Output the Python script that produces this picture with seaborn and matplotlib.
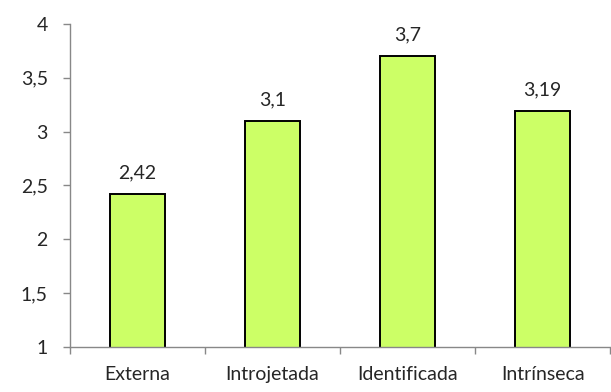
import seaborn as sns
import matplotlib.pyplot as plt
import pandas as pd

categorias = ['Externa', 'Introjetada', 'Identificada', 'Intrínseca']
medias = [2.42, 3.1, 3.7, 3.19]
rotulos = ['2,42', '3,1', '3,7', '3,19']
yticks = [1, 1.5, 2, 2.5, 3, 3.5, 4]
ytick_labels = ['1', '1,5', '2', '2,5', '3', '3,5', '4']

df = pd.DataFrame({'cat': categorias, 'val': medias})

sns.set_style('white')
plt.rcParams['font.family'] = ['Lato', 'DejaVu Sans']

fig = plt.figure(figsize=(6.11, 3.92), dpi=100)
ax = fig.add_axes([0.1146, 0.115, 0.884, 0.824])

sns.barplot(data=df, x='cat', y='val', color='#CCFF66', width=0.41,
            edgecolor='black', linewidth=1.4, saturation=1, ax=ax)

# rotulos de dados
for i, (v, r) in enumerate(zip(medias, rotulos)):
    ax.text(i, v + 0.12, r, ha='center', va='bottom', fontsize=14)

ax.set_ylim(1, 4)
ax.set_xlim(-0.5, 3.5)
ax.set_yticks(yticks)
ax.set_yticklabels(ytick_labels, fontsize=14)
ax.set_xticks(range(4))
ax.set_xticklabels(categorias, fontsize=14)
ax.tick_params(axis='x', which='major', bottom=True, length=0, pad=14)
ax.set_xticks([-0.5, 0.5, 1.5, 2.5, 3.5], minor=True)
ax.tick_params(axis='x', which='minor', bottom=True, length=5, color='#888888',
               width=1, direction='out')
ax.tick_params(axis='y', left=True, length=5, color='#888888', width=1,
               direction='out', pad=11)
ax.set_xlabel('')
ax.set_ylabel('')

for s in ['top', 'right']:
    ax.spines[s].set_visible(False)
for s in ['left', 'bottom']:
    ax.spines[s].set_color('#888888')
    ax.spines[s].set_linewidth(1)

plt.savefig('out.png', dpi=100)
